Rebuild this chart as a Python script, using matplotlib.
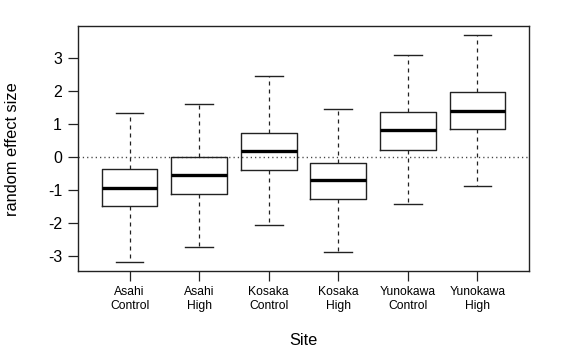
import matplotlib
matplotlib.use("Agg")
import matplotlib.pyplot as plt

plt.rcParams['font.family'] = ['Liberation Sans', 'DejaVu Sans']

categories = ["Asahi\nControl", "Asahi\nHigh", "Kosaka\nControl", "Kosaka\nHigh",
              "Yunokawa\nControl", "Yunokawa\nHigh"]
whisker_low = [-3.17, -2.72, -2.06, -2.86, -1.42, -0.88]
q1 = [-1.48, -1.10, -0.39, -1.25, 0.22, 0.85]
median = [-0.93, -0.54, 0.20, -0.70, 0.82, 1.39]
q3 = [-0.36, 0.00, 0.745, -0.17, 1.37, 1.98]
whisker_high = [1.34, 1.62, 2.45, 1.45, 3.09, 3.70]
yticks = [-3, -2, -1, 0, 1, 2, 3]

W, H = 570, 350
fig = plt.figure(figsize=(W/100, H/100), dpi=100)
ax = fig.add_axes([78/W, 1-271/H, (529-78)/W, (271-26)/H])

stats = []
for i in range(len(categories)):
    stats.append(dict(med=median[i], q1=q1[i], q3=q3[i],
                      whislo=whisker_low[i], whishi=whisker_high[i],
                      fliers=[], label=categories[i]))

pos = list(range(1, len(categories) + 1))
ax.bxp(stats, positions=pos, widths=0.8, showfliers=False, patch_artist=False,
       boxprops=dict(color='#222222', linewidth=1.0),
       medianprops=dict(color='black', linewidth=2.4, solid_capstyle='butt'),
       whiskerprops=dict(color='#222222', linewidth=0.9, linestyle=(0, (3.2, 3.2))),
       capprops=dict(color='#222222', linewidth=1.0),
       capwidths=0.4)

ax.axhline(0, color='#444444', linestyle=(0, (0.9, 2.2)), linewidth=1.0, zorder=0)

ymin = min(whisker_low); ymax = max(whisker_high)
r = ymax - ymin
ax.set_ylim(ymin - 0.04*r, ymax + 0.04*r)
ax.set_xlim(0.5 - 0.24, len(categories) + 0.5 + 0.24)

ax.set_yticks(yticks)
ax.set_yticklabels([str(t) for t in yticks], fontsize=11.5)
ax.set_xticks(pos)
ax.set_xticklabels(categories, fontsize=8.7, linespacing=1.15)
ax.tick_params(axis='both', direction='out', length=7.5, width=0.9, color='#222222')
ax.tick_params(axis='y', pad=4)
ax.tick_params(axis='x', pad=3.5)

for s in ax.spines.values():
    s.set_linewidth(1.0)
    s.set_color('#222222')

fig.text(5/W, 1-149/H, "random effect size", rotation=90, fontsize=11.8,
         ha='left', va='center')
fig.text(303.5/W, 1-345/H, "Site", fontsize=11.8, ha='center', va='baseline')

fig.savefig("out.png", dpi=100)
